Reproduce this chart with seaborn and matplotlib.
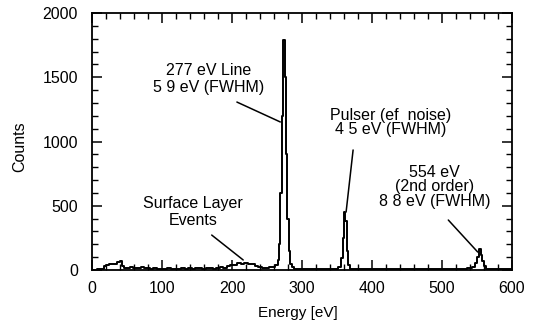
import matplotlib
matplotlib.use('Agg')
import matplotlib.pyplot as plt
import seaborn as sns
from matplotlib.ticker import MultipleLocator

# energy channels [eV] and counts
energy = [0, 5, 10, 15, 18, 22, 26, 30, 34, 38, 41, 44, 47, 52, 56, 60, 64, 68,
          72, 76, 80, 85, 90, 95, 100, 105, 110, 115, 120, 125, 130, 135, 140,
          145, 150, 155, 160, 165, 170, 175, 180, 185, 190, 195, 200, 205, 210,
          215, 220, 225, 230, 235, 240, 245, 250, 255, 260, 264, 266, 268, 270,
          272, 274, 276, 278, 280, 282, 284, 286, 290, 295, 300, 310, 320, 330,
          340, 350, 354, 357, 359, 361, 363, 365, 367, 370, 380, 390, 400, 410,
          420, 430, 440, 450, 460, 470, 480, 490, 500, 510, 520, 530, 540, 545,
          548, 551, 554, 556, 558, 561, 565, 570, 580, 590, 600]
counts = [2, 3, 4, 6, 30, 42, 45, 46, 48, 62, 70, 35, 18, 14, 20, 12, 16, 14,
          20, 12, 15, 10, 12, 8, 10, 8, 12, 7, 10, 8, 12, 10, 14, 8, 12, 15,
          10, 12, 14, 10, 16, 20, 15, 30, 42, 38, 52, 48, 58, 50, 44, 28, 22,
          18, 15, 20, 22, 38, 80, 200, 600, 1200, 1790, 1500, 900, 400, 150, 50,
          20, 10, 6, 5, 6, 5, 6, 5, 8, 20, 90, 250, 450, 380, 150, 40, 8, 5, 6,
          5, 6, 5, 6, 5, 6, 5, 7, 6, 5, 6, 5, 6, 8, 12, 25, 55, 105, 160, 120,
          70, 28, 10, 6, 5, 6, 5]

# annotation labels
labels = ['277 eV Line\n5 9 eV (FWHM)',
          'Pulser (ef  noise)\n4 5 eV (FWHM)',
          '554 eV\n(2nd order)\n8 8 eV (FWHM)',
          'Surface Layer\nEvents']
text_xy = [(167, 1486), (427, 1150), (489, 646), (144, 451)]
point_xy = [(269, 1152), (363, 451), (551, 140), (216, 78)]
start_xy = [(207, 1307), (373, 934), (509, 389), (171, 272)]
spacing = [1.1, 0.95, 0.95, 1.15]

sns.set_theme(style='ticks')
plt.rcParams['font.family'] = ['Liberation Sans', 'DejaVu Sans']

fig = plt.figure(figsize=(5.38, 3.25), dpi=100)
ax = fig.add_axes([92 / 538, 1 - 270 / 325, 420 / 538, 257 / 325])

sns.lineplot(x=energy, y=counts, ax=ax, color='black', linewidth=1.4,
             drawstyle='steps-mid')

ax.set_xlim(0, 600)
ax.set_ylim(0, 2000)
ax.xaxis.set_major_locator(MultipleLocator(100))
ax.xaxis.set_minor_locator(MultipleLocator(20))
ax.yaxis.set_major_locator(MultipleLocator(500))
ax.yaxis.set_minor_locator(MultipleLocator(100))
ax.tick_params(which='both', direction='in', top=True, right=True,
               color='black', labelsize=11.5, labelcolor='black')
ax.tick_params(which='major', length=7, width=1.1)
ax.tick_params(which='minor', length=4, width=1)
ax.tick_params(axis='y', pad=10)
ax.tick_params(axis='x', pad=8)
for s in ax.spines.values():
    s.set_color('black')
    s.set_linewidth(1.3)

ax.set_xlabel('Energy [eV]', fontsize=11, color='black')
ax.set_ylabel('Counts', fontsize=11.5, color='black')
ax.xaxis.set_label_coords(0.49, -0.14)
ax.yaxis.set_label_coords(-0.155, 0.48)

for lab, txy, pxy, sxy, ls in zip(labels, text_xy, point_xy, start_xy, spacing):
    ax.text(txy[0], txy[1], lab, ha='center', va='center', fontsize=11.5,
            linespacing=ls, color='black')
    ax.annotate('', xy=pxy, xytext=sxy,
                arrowprops=dict(arrowstyle='-', color='black', lw=1.1,
                                shrinkA=0, shrinkB=0))

fig.savefig('out.png', dpi=100)
